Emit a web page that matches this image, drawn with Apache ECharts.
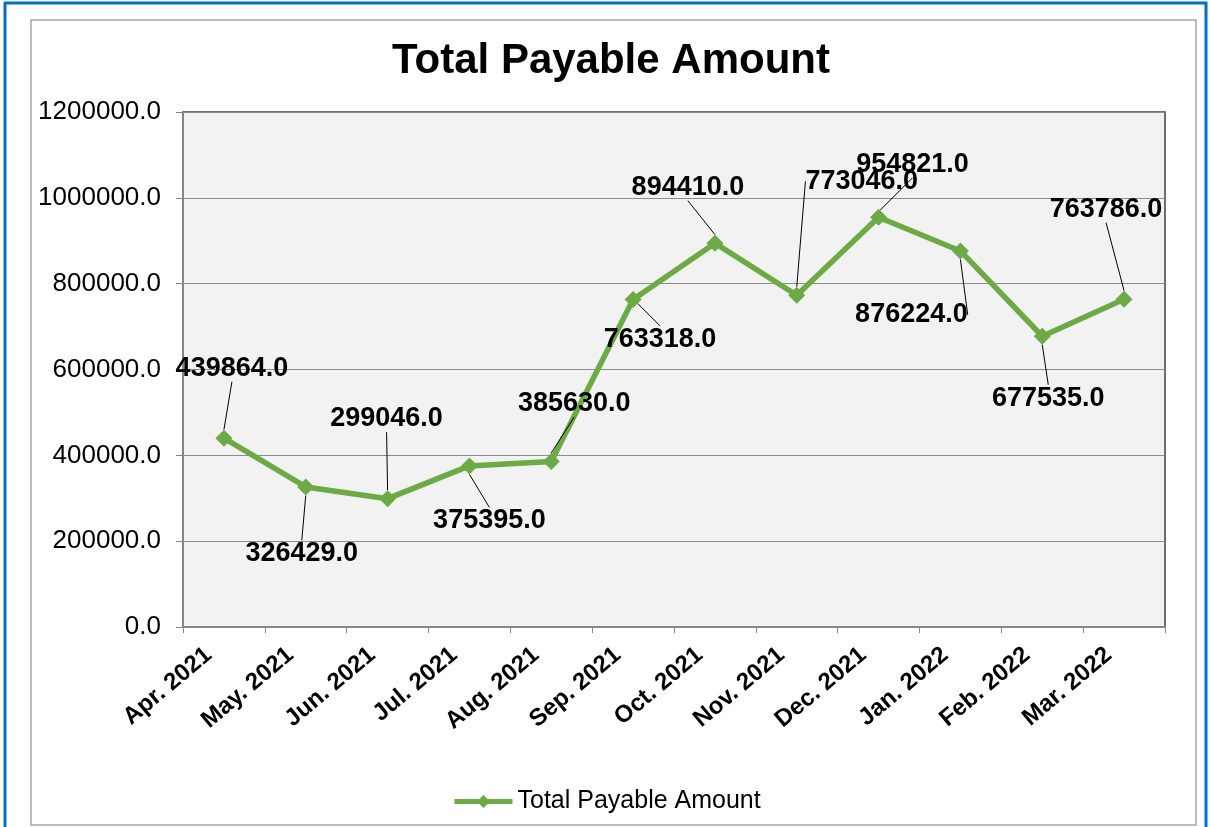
<!DOCTYPE html>
<html>
<head>
<meta charset="utf-8">
<script src="https://cdn.jsdelivr.net/npm/echarts@6/dist/echarts.min.js"></script>
<style>
  html, body { margin: 0; padding: 0; background: #fff; }
  #chart { width: 1210px; height: 827px; }
</style>
</head>
<body>
<div id="chart"></div>
<script>
// months on the x axis
const months = [
  'Apr. 2021', 'May. 2021', 'Jun. 2021', 'Jul. 2021', 'Aug. 2021', 'Sep. 2021',
  'Oct. 2021', 'Nov. 2021', 'Dec. 2021', 'Jan. 2022', 'Feb. 2022', 'Mar. 2022'
]
// total payable amount per month
const payable = [
  439864, 326429, 299046, 375395, 385630, 763318,
  894410, 773046, 954821, 876224, 677535, 763786
]
const seriesName = 'Total Payable Amount'

// where each data label sits relative to its point (dx, dy)
const labelShift = [
  [8, -70], [-4, 67], [-1, -80], [20, 55], [23, -58], [27, 40],
  [-27, -56], [65, -114], [34, -53], [-49, 64], [6, 62], [-18, -90]
]

const font = 'Arial, "Liberation Sans", sans-serif'
const green = '#6BAA45'

const chart = echarts.init(document.getElementById('chart'))
chart.setOption({
  animation: false,
  backgroundColor: '#fff',
  textStyle: { fontFamily: font },
  graphic: [
    { type: 'rect', shape: { x: 5, y: 3, width: 1201, height: 840 },
      style: { fill: 'none', stroke: '#0070C0', lineWidth: 3 }, silent: true },
    { type: 'rect', shape: { x: 31, y: 20, width: 1165, height: 805 },
      style: { fill: 'none', stroke: '#A6A6A6', lineWidth: 1.5 }, silent: true }
  ],
  title: {
    text: 'Total Payable Amount',
    left: 392,
    top: 40,
    padding: 0,
    textStyle: { fontSize: 42, fontWeight: 'bold', color: '#000', fontFamily: font }
  },
  legend: {
    left: 447,
    top: 784,
    itemWidth: 58,
    itemHeight: 16,
    itemGap: 10,
    lineStyle: { width: 5 },
    textStyle: { fontSize: 25, color: '#000', fontFamily: font },
    data: [seriesName]
  },
  grid: {
    left: 183, top: 112, right: 45, bottom: 200,
    show: true,
    backgroundColor: '#F2F2F2',
    borderColor: '#404040',
    borderWidth: 1.5
  },
  xAxis: {
    type: 'category',
    data: months,
    boundaryGap: true,
    axisLine: { lineStyle: { color: '#868686', width: 2 } },
    axisTick: { show: true, alignWithLabel: false, length: 6, lineStyle: { color: '#868686' } },
    axisLabel: {
      rotate: 40, margin: 12, interval: 0, padding: [0, 20, 0, 0],
      fontSize: 24, fontWeight: 'bold', color: '#000', fontFamily: font
    },
    splitLine: { show: false }
  },
  yAxis: {
    type: 'value',
    min: 0, max: 1200000, interval: 200000,
    axisLine: { show: true, lineStyle: { color: '#868686', width: 2 } },
    axisTick: { show: true, length: 7, lineStyle: { color: '#868686' } },
    axisLabel: {
      margin: 22, fontSize: 26, color: '#000', fontFamily: font,
      formatter: v => v.toFixed(1)
    },
    splitLine: { lineStyle: { color: '#8C8C8C', width: 1 } }
  },
  series: [{
    name: seriesName,
    type: 'line',
    data: payable,
    symbol: 'diamond',
    symbolSize: 17,
    itemStyle: { color: green },
    lineStyle: { color: green, width: 5.5 },
    label: {
      show: true,
      position: 'inside',
      fontSize: 27,
      fontWeight: 'bold',
      color: '#000',
      fontFamily: font,
      formatter: p => p.value.toFixed(1)
    },
    labelLine: { show: true, lineStyle: { color: '#000', width: 1 } },
    labelLayout: p => ({ dx: labelShift[p.dataIndex][0], dy: labelShift[p.dataIndex][1] })
  }]
})
</script>
</body>
</html>
